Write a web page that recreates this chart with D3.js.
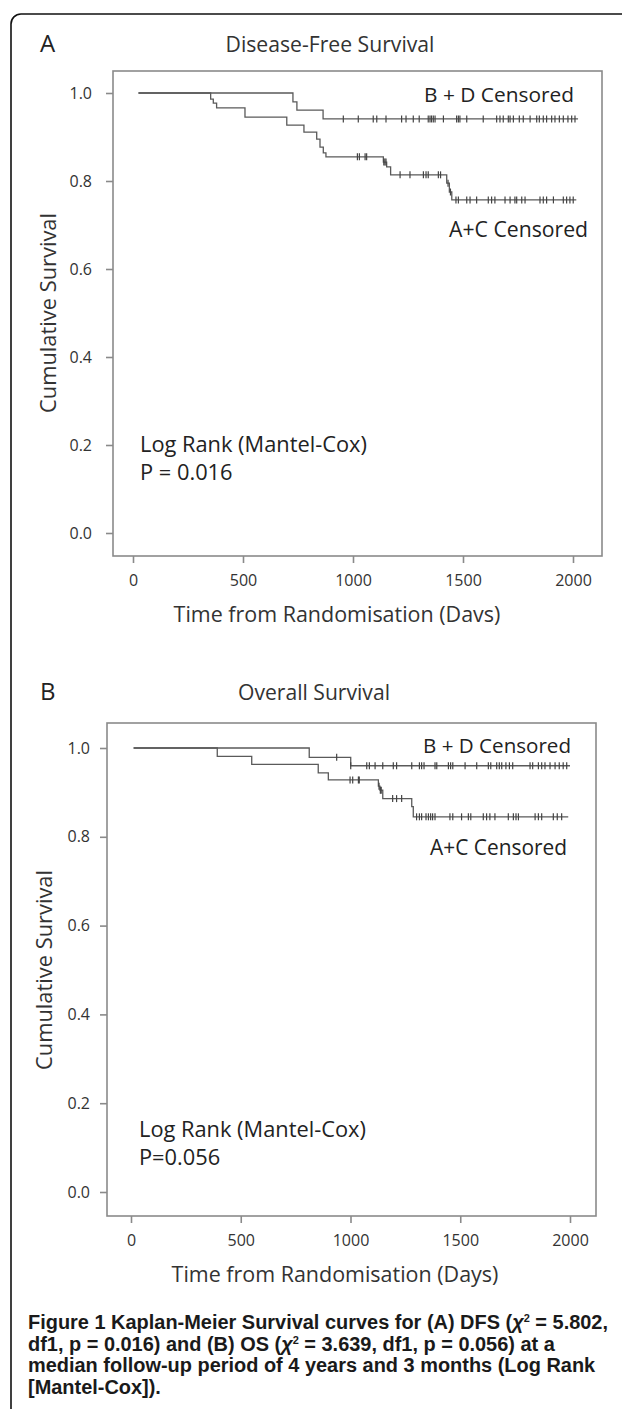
<!DOCTYPE html>
<html><head><meta charset="utf-8">
<script src="https://cdn.jsdelivr.net/npm/d3@7"></script>
<style>
html,body{margin:0;padding:0;background:#fff;}
svg{display:block;}
text{font-family:"Open Sans","DejaVu Sans",sans-serif;}
text.cap{font-family:"Liberation Sans",Arial,sans-serif;font-weight:bold;}
</style></head>
<body>
<svg id="chart" width="622" height="1409"></svg>
<script>
// ---------- data ----------
const xTicks = [0, 500, 1000, 1500, 2000];
const yTicks = [0.0, 0.2, 0.4, 0.6, 0.8, 1.0];
const seriesLabels = ["B + D Censored", "A+C Censored"];

// Panel A: Disease-Free Survival
const dfsBDTime = [25, 727, 745, 864, 2023];
const dfsBDSurv = [1.0, 0.980, 0.961, 0.941, 0.941];
const dfsBDCensor = [956,1024,1092,1108,1150,1221,1241,1274,1301,1342,1350,1357,1365,1373,1411,1471,1479,1486,1517,1592,1653,1668,1683,1706,1714,1729,1756,1774,1805,1835,1847,1865,1880,1903,1918,1938,1956,1977,1994,2009];
const dfsACTime = [25,353,365,380,509,699,777,835,850,865,877,1138,1153,1171,1426,1438,1449,2015];
const dfsACSurv = [1.0,0.986,0.977,0.966,0.945,0.927,0.911,0.895,0.877,0.864,0.855,0.843,0.832,0.814,0.795,0.775,0.757,0.757];
const dfsACCensor = [1020,1029,1055,1062,1140,1145,1150,1214,1259,1320,1332,1342,1388,1398,1432,1443,1468,1479,1517,1532,1562,1615,1630,1645,1691,1714,1736,1744,1767,1782,1850,1865,1880,1911,1956,1971,1986,2001];

// Panel B: Overall Survival
const osBDTime = [12, 812, 1001, 2000];
const osBDSurv = [1.0, 0.979, 0.960, 0.960];
const osBDCensor = [937,1001,1074,1086,1112,1147,1195,1210,1279,1314,1324,1335,1385,1393,1446,1456,1466,1522,1575,1628,1639,1666,1678,1689,1708,1724,1739,1818,1830,1856,1871,1886,1909,1932,1951,1969,1985];
const osACTime = [12, 393, 550, 853, 899, 1127, 1134, 1147, 1279, 1286, 1992];
const osACSurv = [1.0, 0.981, 0.963, 0.944, 0.928, 0.914, 0.905, 0.886, 0.868, 0.845, 0.845];
const osACCensor = [998,1010,1036,1040,1130,1136,1140,1192,1210,1233,1301,1314,1324,1344,1355,1365,1374,1385,1453,1466,1506,1537,1548,1605,1620,1635,1658,1719,1742,1754,1765,1841,1856,1871,1924,1942,1962];

// ---------- drawing ----------
const svg = d3.select("#chart");

// scale a text's font size so that it spans the given width
function fit(sel, target) {
  const w = sel.node().getComputedTextLength();
  const fs = +sel.attr("font-size");
  if (w > 0) sel.attr("font-size", (fs * target / w).toFixed(2));
  return sel;
}

// outer figure border (rounded top-left corner)
svg.append("rect").attr("x", 11).attr("y", 14).attr("width", 800).attr("height", 1600)
  .attr("rx", 10).attr("fill", "none").attr("stroke", "#111").attr("stroke-width", 1.6);

const LINE = "#5a5a5a", FRAME = "#8a8a8a";

function stepValue(times, surv, t) {
  const i = d3.bisectRight(times, t) - 1;
  return surv[Math.max(0, i)];
}

function drawPanel(cfg) {
  const g = svg.append("g");
  const x = d3.scaleLinear().domain([0, 2000]).range([cfg.x0px, cfg.x2000px]);
  const y = d3.scaleLinear().domain([0, 1]).range([cfg.y0px, cfg.y1px]);

  // panel letter & title
  g.append("text").attr("x", 40).attr("y", cfg.titleY).attr("font-size", 24)
    .attr("fill", "#222").text(cfg.letter);
  fit(g.append("text").attr("x", cfg.titleX).attr("y", cfg.titleY).attr("font-size", 19)
    .attr("text-anchor", "middle").attr("fill", "#333").text(cfg.title), cfg.titleW);

  // frame
  g.append("rect").attr("x", cfg.fx0).attr("y", cfg.fy0)
    .attr("width", cfg.fx1 - cfg.fx0).attr("height", cfg.fy1 - cfg.fy0)
    .attr("fill", "none").attr("stroke", FRAME).attr("stroke-width", 1.6);

  // y axis
  const ya = g.append("g").attr("transform", `translate(${cfg.fx0},0)`)
    .call(d3.axisLeft(y).tickValues(yTicks).tickFormat(d3.format(".1f")).tickSize(7).tickPadding(cfg.yPad));
  ya.select(".domain").remove();
  ya.selectAll(".tick line").attr("stroke", FRAME).attr("stroke-width", 1.6);
  ya.selectAll(".tick text").attr("font-size", 16).attr("fill", "#333");

  // x axis
  const xa = g.append("g").attr("transform", `translate(0,${cfg.fy1})`)
    .call(d3.axisBottom(x).tickValues(xTicks).tickFormat(d3.format("d")).tickSize(7).tickPadding(cfg.xPad));
  xa.select(".domain").remove();
  xa.selectAll(".tick line").attr("stroke", FRAME).attr("stroke-width", 1.6);
  xa.selectAll(".tick text").attr("font-size", 16).attr("fill", "#333");

  // axis titles
  fit(g.append("text").attr("transform", `translate(${cfg.ytitleX},${(cfg.y0px + cfg.y1px) / 2}) rotate(-90)`)
    .attr("text-anchor", "middle").attr("font-size", 22).attr("fill", "#333").text("Cumulative Survival"), 200);
  fit(g.append("text").attr("x", cfg.xtitleX).attr("y", cfg.xtitleY).attr("text-anchor", "middle")
    .attr("font-size", 20.5).attr("fill", "#333").text(cfg.xtitle), 327);

  // curves
  const line = d3.line().curve(d3.curveStepAfter).x(d => x(d[0])).y(d => y(d[1]));
  cfg.series.forEach(s => {
    const pts = s.time.map((t, i) => [t, s.surv[i]]);
    g.append("path").datum(pts).attr("d", line).attr("fill", "none")
      .attr("stroke", LINE).attr("stroke-width", 1.3);
    g.selectAll(null).data(s.censor).enter().append("line")
      .attr("x1", t => x(t)).attr("x2", t => x(t))
      .attr("y1", t => y(stepValue(s.time, s.surv, t)) - 3.5)
      .attr("y2", t => y(stepValue(s.time, s.surv, t)) + 3.5)
      .attr("stroke", "#444").attr("stroke-width", 1.2);
  });

  // series labels
  fit(g.append("text").attr("x", cfg.labBDx).attr("y", cfg.labBDy).attr("text-anchor", "end")
    .attr("font-size", 20).attr("fill", "#222").text(seriesLabels[0]), cfg.labBDw);
  fit(g.append("text").attr("x", cfg.labACx).attr("y", cfg.labACy).attr("text-anchor", "end")
    .attr("font-size", 20).attr("fill", "#222").text(seriesLabels[1]), cfg.labACw);

  // log rank annotation
  const lr = fit(g.append("text").attr("x", cfg.lrX).attr("y", cfg.lrY).attr("font-size", 20.5)
    .attr("fill", "#222").text("Log Rank (Mantel-Cox)"), 227);
  g.append("text").attr("x", cfg.lrX).attr("y", cfg.lrY + 28).attr("font-size", lr.attr("font-size"))
    .attr("fill", "#222").text(cfg.pText);
}

drawPanel({
  letter: "A", title: "Disease-Free Survival", titleX: 330, titleY: 52, titleW: 209,
  fx0: 113, fx1: 602, fy0: 71, fy1: 556,
  x0px: 133, x2000px: 573, y0px: 533, y1px: 93, yPad: 14, xPad: 12,
  ytitleX: 56, xtitleX: 337, xtitleY: 622, xtitle: "Time from Randomisation (Davs)",
  labBDx: 574, labBDy: 102, labBDw: 150, labACx: 588, labACy: 237, labACw: 139,
  lrX: 140, lrY: 452, pText: "P = 0.016",
  series: [
    {time: dfsBDTime, surv: dfsBDSurv, censor: dfsBDCensor},
    {time: dfsACTime, surv: dfsACSurv, censor: dfsACCensor}
  ]
});

drawPanel({
  letter: "B", title: "Overall Survival", titleX: 314, titleY: 700, titleW: 152,
  fx0: 107, fx1: 596, fy0: 723, fy1: 1216,
  x0px: 131, x2000px: 570, y0px: 1192, y1px: 748, yPad: 10, xPad: 12,
  ytitleX: 52, xtitleX: 335, xtitleY: 1282, xtitle: "Time from Randomisation (Days)",
  labBDx: 571, labBDy: 753, labBDw: 148, labACx: 567, labACy: 855, labACw: 137,
  lrX: 139, lrY: 1137, pText: "P=0.056",
  series: [
    {time: osBDTime, surv: osBDSurv, censor: osBDCensor},
    {time: osACTime, surv: osACSurv, censor: osACCensor}
  ]
});

// caption
const cap = svg.append("g").attr("fill", "#1a1a1a");
const capX = 28, capY0 = 1329, capDY = 21.5;
const l1 = cap.append("text").attr("class", "cap").attr("x", capX).attr("y", capY0).attr("font-size", 16);
l1.append("tspan").text("Figure 1");
l1.append("tspan").text(" Kaplan-Meier Survival curves for (A) DFS (");
l1.append("tspan").attr("font-style", "italic").text("χ");
l1.append("tspan").attr("font-size", 11).attr("dy", -7).text("2");
l1.append("tspan").attr("dy", 7).text(" = 5.802,");
fit(l1, 582);
const capFs = l1.attr("font-size");
const l2 = cap.append("text").attr("class", "cap").attr("x", capX).attr("y", capY0 + capDY).attr("font-size", capFs);
l2.append("tspan").text("df1, p = 0.016) and (B) OS (");
l2.append("tspan").attr("font-style", "italic").text("χ");
l2.append("tspan").attr("font-size", 11).attr("dy", -7).text("2");
l2.append("tspan").attr("dy", 7).text(" = 3.639, df1, p = 0.056) at a");
cap.append("text").attr("class", "cap").attr("x", capX).attr("y", capY0 + 2 * capDY).attr("font-size", capFs)
  .text("median follow-up period of 4 years and 3 months (Log Rank");
cap.append("text").attr("class", "cap").attr("x", capX).attr("y", capY0 + 3 * capDY).attr("font-size", capFs)
  .text("[Mantel-Cox]).");
</script>
</body></html>
